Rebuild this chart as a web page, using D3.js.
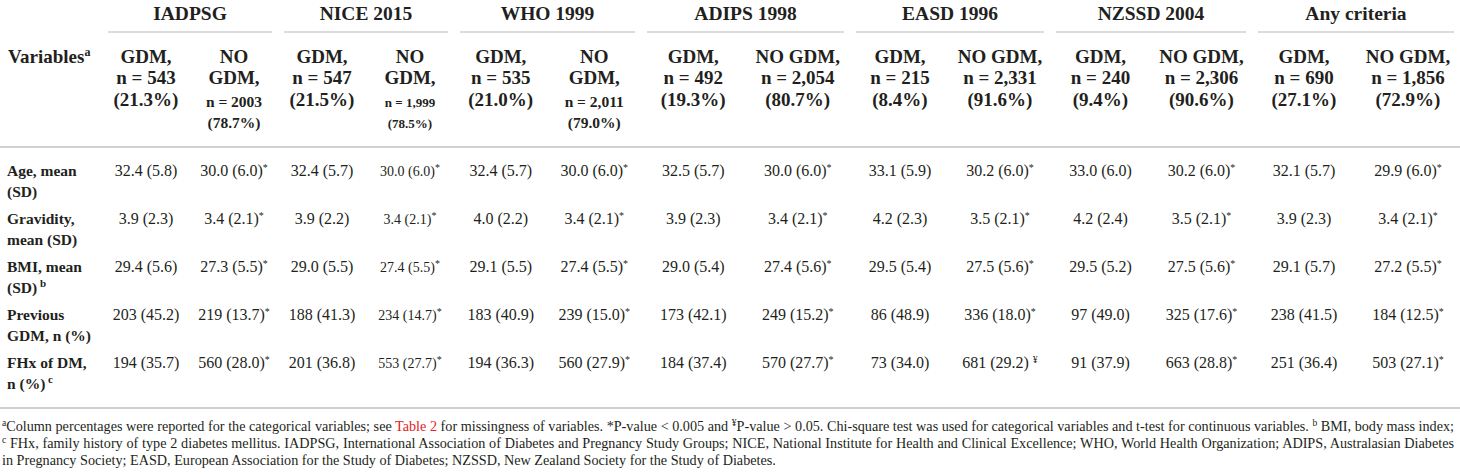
<!DOCTYPE html>
<html>
<head>
<meta charset="utf-8">
<script src="https://cdn.jsdelivr.net/npm/d3@7"></script>
<style>
  body { margin: 0; background: #fff; }
  svg { display: block; font-family: "Liberation Serif", "Times New Roman", serif; }
</style>
</head>
<body>
<div id="container"></div>
<script>
// criteria (column groups) and their header counts
const criteria = ["IADPSG", "NICE 2015", "WHO 1999", "ADIPS 1998", "EASD 1996", "NZSSD 2004", "Any criteria"];
const gdmN     = ["543", "547", "535", "492", "215", "240", "690"];
const gdmPct   = ["21.3%", "21.5%", "21.0%", "19.3%", "8.4%", "9.4%", "27.1%"];
const noGdmN   = ["2003", "1,999", "2,011", "2,054", "2,331", "2,306", "1,856"];
const noGdmPct = ["78.7%", "78.5%", "79.0%", "80.7%", "91.6%", "90.6%", "72.9%"];

// row labels
const variables = ["Age, mean (SD)", "Gravidity, mean (SD)", "BMI, mean (SD)", "Previous GDM, n (%)", "FHx of DM, n (%)"];
const varLines  = [["Age, mean", "(SD)"], ["Gravidity,", "mean (SD)"], ["BMI, mean", "(SD)"], ["Previous", "GDM, n (%)"], ["FHx of DM,", "n (%)"]];
const varNotes  = ["", "", "b", "", "c"];

// cell values, GDM / NO GDM pairs per criterion
const age       = ["32.4 (5.8)", "30.0 (6.0)*", "32.4 (5.7)", "30.0 (6.0)*", "32.4 (5.7)", "30.0 (6.0)*", "32.5 (5.7)", "30.0 (6.0)*", "33.1 (5.9)", "30.2 (6.0)*", "33.0 (6.0)", "30.2 (6.0)*", "32.1 (5.7)", "29.9 (6.0)*"];
const gravidity = ["3.9 (2.3)", "3.4 (2.1)*", "3.9 (2.2)", "3.4 (2.1)*", "4.0 (2.2)", "3.4 (2.1)*", "3.9 (2.3)", "3.4 (2.1)*", "4.2 (2.3)", "3.5 (2.1)*", "4.2 (2.4)", "3.5 (2.1)*", "3.9 (2.3)", "3.4 (2.1)*"];
const bmi       = ["29.4 (5.6)", "27.3 (5.5)*", "29.0 (5.5)", "27.4 (5.5)*", "29.1 (5.5)", "27.4 (5.5)*", "29.0 (5.4)", "27.4 (5.6)*", "29.5 (5.4)", "27.5 (5.6)*", "29.5 (5.2)", "27.5 (5.6)*", "29.1 (5.7)", "27.2 (5.5)*"];
const prevGdm   = ["203 (45.2)", "219 (13.7)*", "188 (41.3)", "234 (14.7)*", "183 (40.9)", "239 (15.0)*", "173 (42.1)", "249 (15.2)*", "86 (48.9)", "336 (18.0)*", "97 (49.0)", "325 (17.6)*", "238 (41.5)", "184 (12.5)*"];
const fhxDm     = ["194 (35.7)", "560 (28.0)*", "201 (36.8)", "553 (27.7)*", "194 (36.3)", "560 (27.9)*", "184 (37.4)", "570 (27.7)*", "73 (34.0)", "681 (29.2) ¥", "91 (37.9)", "663 (28.8)*", "251 (36.4)", "503 (27.1)*"];
const rowValues = [age, gravidity, bmi, prevGdm, fhxDm];

// layout
const width = 1460, height = 475;
const ink = "#231f20", rule = "#d0d0d0";
const groupWidths = [176, 176, 187, 209, 200, 202, 208];   // width of each criterion block
const leftCol = 102;
const shrunkCol = "NICE 2015"; // the source set this NO GDM column in a smaller type

const svg = d3.select("#container").append("svg")
  .attr("width", width)
  .attr("height", height);

// group scale built from cumulative widths
const edges = [leftCol];
groupWidths.forEach(w => edges.push(edges[edges.length - 1] + w));
const gx = d3.scaleOrdinal().domain(criteria).range(criteria.map((c, i) => [edges[i], edges[i + 1]]));
const sub = c => d3.scaleBand().domain(["GDM", "NO"]).range(gx(c));

const y = d3.scaleBand().domain(variables).range([152, 392]);

// top group headings + short rules under them
criteria.forEach(c => {
  const [a, b] = gx(c);
  svg.append("text")
    .attr("x", (a + b) / 2).attr("y", 20)
    .attr("text-anchor", "middle")
    .style("font-weight", "bold").style("font-size", "19.5px").style("fill", ink)
    .text(c);
  svg.append("line")
    .attr("x1", a + 6).attr("x2", b - 6).attr("y1", 32).attr("y2", 32)
    .style("stroke", rule).style("stroke-width", 1.5);
});

// Variables heading
const vh = svg.append("text").attr("x", 8).attr("y", 63)
  .style("font-weight", "bold").style("font-size", "19px").style("fill", ink);
vh.append("tspan").text("Variables");
vh.append("tspan").attr("dy", -7).style("font-size", "12px").text("a");

// sub headers
function headLines(x, lines) {
  lines.forEach(l => {
    svg.append("text")
      .attr("x", x).attr("y", l.y)
      .attr("text-anchor", "middle")
      .style("font-weight", "bold").style("font-size", l.size + "px").style("fill", ink)
      .text(l.t);
  });
}

criteria.forEach((c, i) => {
  const s = sub(c);
  const xg = s("GDM") + s.bandwidth() / 2;
  const xn = s("NO") + s.bandwidth() / 2;
  headLines(xg, [
    {t: "GDM,", y: 63, size: 19},
    {t: "n = " + gdmN[i], y: 84, size: 19},
    {t: "(" + gdmPct[i] + ")", y: 106, size: 19}
  ]);
  const wrap = s.bandwidth() < 95;
  if (wrap) {
    const small = c === shrunkCol ? 13 : 15.5;
    headLines(xn, [
      {t: "NO", y: 63, size: 19},
      {t: "GDM,", y: 84, size: 19},
      {t: "n = " + noGdmN[i], y: 107, size: small},
      {t: "(" + noGdmPct[i] + ")", y: 128, size: small}
    ]);
  } else {
    headLines(xn, [
      {t: "NO GDM,", y: 63, size: 19},
      {t: "n = " + noGdmN[i], y: 84, size: 19},
      {t: "(" + noGdmPct[i] + ")", y: 106, size: 19}
    ]);
  }
});

// full-width rules
[147, 408].forEach(yy => {
  svg.append("line")
    .attr("x1", 0).attr("x2", width).attr("y1", yy).attr("y2", yy)
    .style("stroke", rule).style("stroke-width", 2);
});

// row labels
variables.forEach((v, r) => {
  const base = y(v) + 24;
  varLines[r].forEach((l, k) => {
    const t = svg.append("text").attr("x", 7).attr("y", base + k * 20.5)
      .style("font-weight", "bold").style("font-size", "15.5px").style("fill", ink);
    t.append("tspan").text(l);
    if (k === 1 && varNotes[r]) {
      t.append("tspan").attr("dy", -6).style("font-size", "11px").text(" " + varNotes[r]);
    }
  });
});

// cells
variables.forEach((v, r) => {
  const base = y(v) + 24;
  rowValues[r].forEach((val, j) => {
    const c = criteria[Math.floor(j / 2)];
    const key = j % 2 === 0 ? "GDM" : "NO";
    const s = sub(c);
    const m = val.match(/^(.*?)([*¥])$/);
    const t = svg.append("text")
      .attr("x", s(key) + s.bandwidth() / 2).attr("y", base)
      .attr("text-anchor", "middle")
      .style("font-size", (key === "NO" && c === shrunkCol ? 14 : 16) + "px")
      .style("fill", ink);
    t.append("tspan").text(m ? m[1] : val);
    if (m) t.append("tspan").attr("dy", -5).style("font-size", "10px").text(m[2]);
  });
});

// footnotes
const foot = [
  [{sup: "a"}, {t: "Column percentages were reported for the categorical variables; see "}, {t: "Table 2", red: true},
   {t: " for missingness of variables. *P-value < 0.005 and "}, {sup: "¥"},
   {t: "P-value > 0.05. Chi-square test was used for categorical variables and t-test for continuous variables. "}, {sup: "b"}, {t: " BMI, body mass index;"}],
  [{sup: "c"}, {t: " FHx, family history of type 2 diabetes mellitus. IADPSG, International Association of Diabetes and Pregnancy Study Groups; NICE, National Institute for Health and Clinical Excellence; WHO, World Health Organization; ADIPS, Australasian Diabetes"}],
  [{t: "in Pregnancy Society; EASD, European Association for the Study of Diabetes; NZSSD, New Zealand Society for the Study of Diabetes."}]
];
const footY = [431, 448, 465];

foot.forEach((parts, li) => {
  const t = svg.append("text").attr("x", 2).attr("y", footY[li])
    .style("font-size", "14.2px").style("fill", ink);
  let raised = false;
  parts.forEach(p => {
    if (p.sup) {
      t.append("tspan").attr("dy", raised ? 0 : -5).style("font-size", "9.5px").text(p.sup);
      raised = true;
    } else {
      t.append("tspan").attr("dy", raised ? 5 : 0)
        .style("fill", p.red ? "#e2231a" : ink).text(p.t);
      raised = false;
    }
  });
  // justify the first two lines to the full width
  if (li < 2) {
    const natural = t.node().getComputedTextLength();
    const spaces = parts.reduce((n, p) => n + (p.t ? (p.t.match(/ /g) || []).length : 0), 0);
    t.style("word-spacing", ((1452 - natural) / spaces) + "px");
  }
});
</script>
</body>
</html>
